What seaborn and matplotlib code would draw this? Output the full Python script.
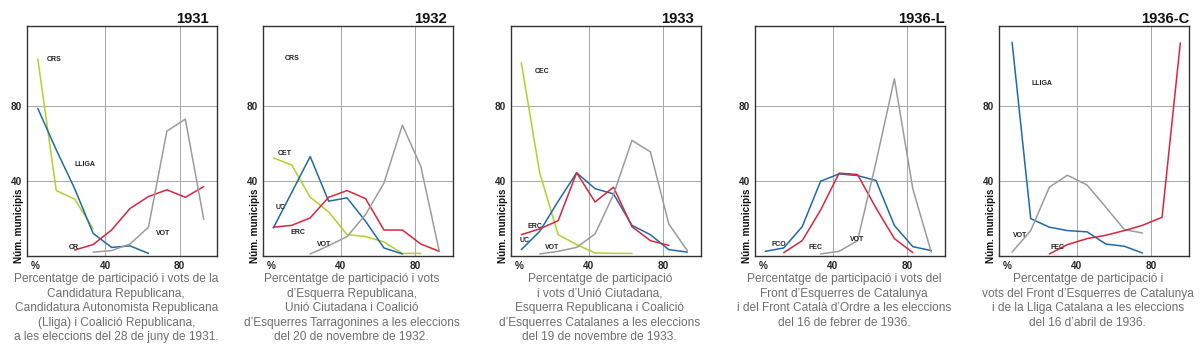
import numpy as np
import matplotlib
matplotlib.use("Agg")
import matplotlib.pyplot as plt
import seaborn as sns

nan = np.nan

# participation bins (%), shared by the first four panels
bins = [3.8, 13.7, 23.6, 33.5, 43.4, 53.3, 63.2, 73.1, 83.0, 92.9]
bins_1936c = [5.3, 15.3, 25.3, 35.0, 45.6, 55.6, 65.6, 75.3, 85.8, 95.6]

# 1931
crs_1931 = [105.4, 35, 30.4, 14.6, nan, nan, nan, nan, nan, nan]
lliga_1931 = [78.9, 56.8, 36, 12.1, 4.6, 5.4, 1.4, nan, nan, nan]
cr_1931 = [nan, nan, 3.2, 6.1, 13.9, 25.4, 31.8, 35.4, 31.4, 37.1]
vot_1931 = [nan, nan, nan, 2.1, 2.9, 6.4, 15.4, 66.8, 73.2, 19.6]

# 1932
cet_1932 = [52.5, 48.6, 31.4, 23.6, 11.4, 10.4, 7.5, 1.4, 1.4, nan]
uc_1932 = [15, 34, 53.2, 29.3, 31.1, 18.6, 4.3, 1.1, nan, nan]
erc_1932 = [15.4, 16.4, 20.4, 31.4, 35, 30.7, 13.9, 13.9, 6.4, 2.5]
vot_1932 = [nan, nan, 1.1, 5.5, 10.4, 22.1, 39, 70, 47.9, 2.5]

# 1933
cec_1933 = [103.4, 44.3, 11.4, 6.1, 1.6, 1.4, 1.4, nan, nan, nan]
uc_1933 = [3.4, 13.2, 29.3, 44.5, 36, 33.2, 16.4, 11.4, 3.4, 2.1]
erc_1933 = [11.4, 14.5, 18.9, 44.5, 28.9, 36.8, 15.7, 8.2, 5.7, nan]
vot_1933 = [nan, 1.1, 2.5, 4.6, 11.8, 32.9, 61.8, 55.7, 17.1, 2.9]

# 1936 legislatives
fco_1936l = [2.5, 4.3, 15.7, 40, 43.9, 43, 40.4, 16.3, 5, 2.9]
fec_1936l = [nan, 1.8, 8.2, 24.6, 44.3, 43.6, 25.7, 9.3, 1.8, nan]
vot_1936l = [nan, nan, nan, 1.1, 2.5, 8.2, 50, 94.8, 35.9, 2]

# 1936 Parlament de Catalunya
lliga_1936c = [114.3, 20, 15.4, 13.6, 12.9, 6.4, 5.2, 1.6, nan, nan]
vot_1936c = [2.1, 13.6, 36.8, 43.2, 37.9, 26.1, 14.1, 12.3, nan, nan]
fec_1936c = [nan, nan, 1.1, 6.1, 9.3, 11.1, 13.6, 16.4, 20.7, 113.9]

titles = ["1931", "1932", "1933", "1936-L", "1936-C"]
captions = [
    "Percentatge de participació i vots de la\nCandidatura Republicana,\n"
    "Candidatura Autonomista Republicana\n(Lliga) i Coalició Republicana,\n"
    "a les eleccions del 28 de juny de 1931.",
    "Percentatge de participació i vots\nd\u2019Esquerra Republicana,\n"
    "Unió Ciutadana i Coalició\nd\u2019Esquerres Tarragonines a les eleccions\n"
    "del 20 de novembre de 1932.",
    "Percentatge de participació\ni vots d\u2019Unió Ciutadana,\n"
    "Esquerra Republicana i Coalició\nd\u2019Esquerres Catalanes a les eleccions\n"
    "del 19 de novembre de 1933.",
    "Percentatge de participació i vots del\nFront d\u2019Esquerres de Catalunya\n"
    "i del Front Català d\u2019Ordre a les eleccions\ndel 16 de febrer de 1936.",
    "Percentatge de participació i\nvots del Front d\u2019Esquerres de Catalunya\n"
    "i de la Lliga Catalana a les eleccions\ndel 16 d\u2019abril de 1936.",
]

GREEN = "#b5cf2a"
BLUE = "#1f6aa8"
RED = "#d8263e"
GREY = "#9c9c9c"

panels = [
    (bins, [(crs_1931, GREEN), (lliga_1931, BLUE), (cr_1931, RED), (vot_1931, GREY)],
     [("CRS", 8.5, 105), ("LLIGA", 23.5, 49), ("CR", 20.5, 4.5), ("VOT", 67, 12)]),
    (bins, [(cet_1932, GREEN), (uc_1932, BLUE), (erc_1932, RED), (vot_1932, GREY)],
     [("CRS", 10, 105.5), ("CET", 6, 55), ("UC", 5, 26), ("ERC", 13, 12.5), ("VOT", 27, 6.3)]),
    (bins, [(cec_1933, GREEN), (uc_1933, BLUE), (erc_1933, RED), (vot_1933, GREY)],
     [("CEC", 11, 98.6), ("ERC", 7, 16), ("UC", 3, 8.2), ("VOT", 16.5, 4.3)]),
    (bins, [(fco_1936l, BLUE), (fec_1936l, RED), (vot_1936l, GREY)],
     [("FCO", 7, 6), ("FEC", 27, 4.3), ("VOT", 49, 8.8)]),
    (bins_1936c, [(lliga_1936c, BLUE), (vot_1936c, GREY), (fec_1936c, RED)],
     [("LLIGA", 15.5, 92), ("VOT", 6, 10.7), ("FEC", 26, 4.8)]),
]

sns.set_style("white")
plt.rcParams["font.family"] = ["Liberation Sans", "DejaVu Sans"]

W, H = 1200, 353
fig = plt.figure(figsize=(W / 100, H / 100), dpi=100)

lefts = [27, 262.5, 510.5, 754.5, 998.5]
title_shift = [-8, -6, -7, 0, 1]
top_px, bot_px, width_px = 26, 256, 190

for i, (xs, series, labels) in enumerate(panels):
    ax = fig.add_axes([lefts[i] / W, 1 - bot_px / H, width_px / W, (bot_px - top_px) / H])
    for v in (40, 80):
        ax.axvline(v, color="#a8a8a8", lw=0.7, zorder=0)
        ax.axhline(v, color="#a8a8a8", lw=0.7, zorder=0)
    for ys, col in series:
        sns.lineplot(x=xs, y=ys, ax=ax, color=col, lw=1.1, zorder=3)
    for txt, lx, ly in labels:
        ax.text(lx, ly, txt, fontsize=5, fontweight="bold", color="#222222",
                ha="left", va="center")

    ax.set_xlim(-2, 100)
    ax.set_ylim(0, 123)
    ax.set_xticks([2.5, 40, 80])
    ax.set_xticklabels(["%", "40", "80"])
    ax.set_xticks([20, 60], minor=True)
    ax.set_yticks([40, 80])
    ax.set_yticks([20, 60, 100], minor=True)
    ax.tick_params(which="major", length=0, labelsize=7.2, pad=3.5)
    ax.tick_params(which="minor", direction="in", length=3.5, width=0.8, color="#333333")
    for lab in ax.get_xticklabels() + ax.get_yticklabels():
        lab.set_fontweight("bold")
    for sp in ax.spines.values():
        sp.set_color("#333333")
        sp.set_linewidth(1.0)
    ax.set_xlabel("")
    ax.set_ylabel("")

    tx = (lefts[i] + width_px + title_shift[i]) / W
    fig.text(tx, 1 - 23 / H, titles[i], ha="right", va="baseline",
             fontsize=10.6, fontweight="bold", color="#111111")
    ax.text(-0.042, -0.03, "Núm. municipis", transform=ax.transAxes, rotation=90,
            ha="center", va="bottom", fontsize=7.2, fontweight="bold", color="#111111")

    cx = (lefts[i] + width_px * 0.47) / W
    fig.text(cx, 1 - 273 / H, captions[i], ha="center", va="top", fontsize=8.6,
             color="#6e6e6e", linespacing=1.28)

fig.savefig("out.png", dpi=100)
